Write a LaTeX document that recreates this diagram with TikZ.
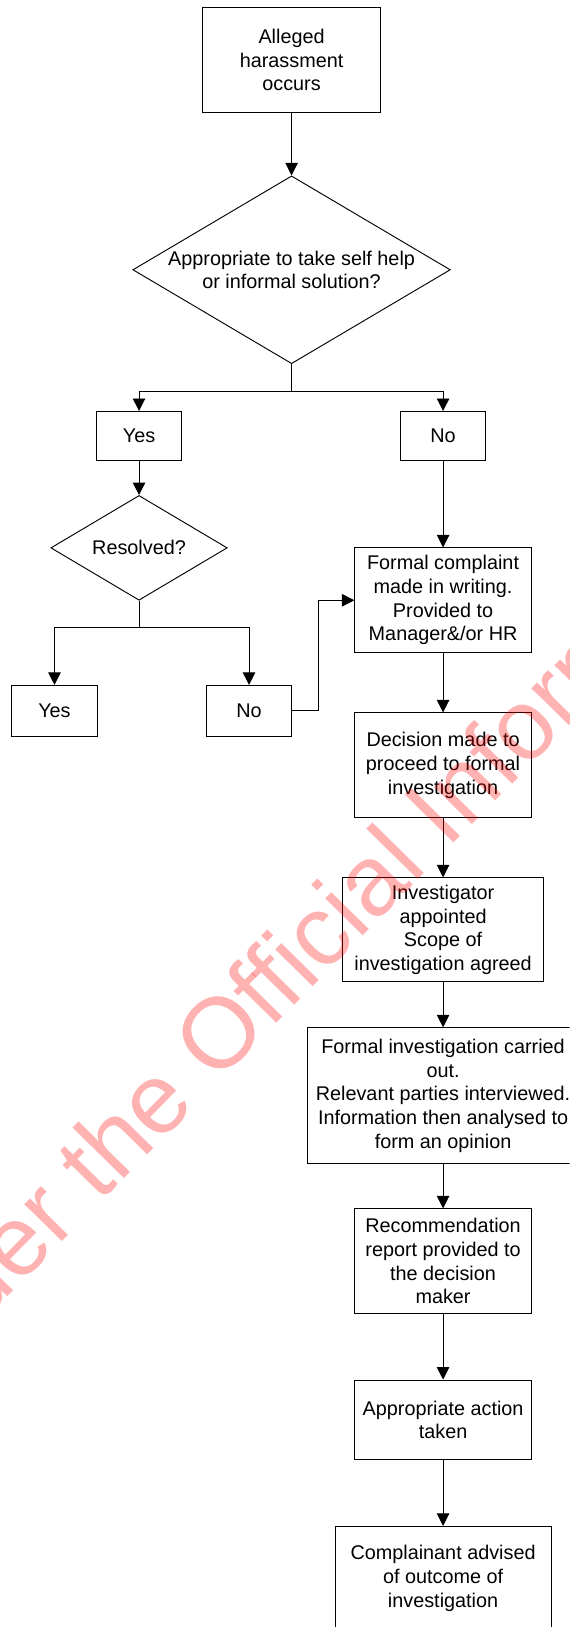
\documentclass[tikz,border=0pt]{standalone}
\usepackage{fontspec}
\setmainfont{Liberation Sans}
\usetikzlibrary{arrows.meta,shapes.geometric}
\begin{document}
\begin{tikzpicture}[x=1pt,y=1pt,
  every node/.style={font=\fontsize{19.1pt}{22.8pt}\selectfont},
  box/.style={draw=black, line width=0.9pt, rectangle, inner sep=0pt, align=center},
  dia/.style={draw=black, line width=0.9pt, diamond, inner sep=0pt},
  lbl/.style={align=center, inner sep=0pt},
  arr/.style={line width=0.9pt, -{Triangle[length=12pt,width=12pt]}},
  ln/.style={line width=0.9pt},
  wm/.style={text=red, text opacity=0.3, inner sep=0pt, rotate=45.5,
    font=\fontsize{96pt}{96pt}\selectfont}]
\useasboundingbox (0,0) rectangle (549,-1568);
\fill[white] (0,0) rectangle (549,-1568);
\clip (0,0) rectangle (549,-1568);

% left/top part
\node[box, minimum width=172pt, minimum height=101pt] (top) at (281,-58) {Alleged\\harassment\\occurs};
\node[dia, minimum width=306pt, minimum height=181pt] (d1) at (281,-260) {};
\node[lbl] (d1t) at (d1.center) {Appropriate to take self help\\or informal solution?};

\node[box, minimum width=82pt, minimum height=47pt] (yes1) at (134,-420) {Yes};
\node[box, minimum width=82pt, minimum height=47pt] (no1) at (427,-420) {No};

\node[dia, minimum width=170pt, minimum height=101pt] (d2) at (134,-528) {};
\node[lbl] (d2t) at (d2.center) {Resolved?};

\node[box, minimum width=82pt, minimum height=49pt] (yes2) at (52.5,-685) {Yes};
\node[box, minimum width=82pt, minimum height=49pt] (no2) at (240,-685) {No};

% right column
\node[box, minimum width=170pt, minimum height=101pt] (formal) at (427,-578.5) {Formal complaint\\made in writing.\\Provided to\\Manager\&/or HR};
\node[box, minimum width=170pt, minimum height=101pt] (decision) at (427,-737.5) {Decision made to\\proceed to formal\\investigation};
\node[box, minimum width=194pt, minimum height=100pt] (invest) at (427,-896) {Investigator\\appointed\\Scope of\\investigation agreed};
\node[box, minimum width=262pt, minimum height=131pt] (forminv) at (427,-1056) {Formal investigation carried\\out.\\Relevant parties interviewed.\\Information then analysed to\\form an opinion};
\node[box, minimum width=170pt, minimum height=101pt] (recom) at (427,-1215.5) {Recommendation\\report provided to\\the decision\\maker};
\node[box, minimum width=170pt, minimum height=77pt] (action) at (427,-1368.5) {Appropriate action\\taken};
\node[box, minimum width=208pt, minimum height=100pt] (compl) at (427,-1521) {Complainant advised\\of outcome of\\investigation};

% connectors
\draw[arr] (top) -- (d1.north);
\draw[ln] (d1.south) -- ++(0,-26) coordinate (j1);
\draw[arr] (j1) -| (yes1.north);
\draw[arr] (j1) -| (no1.north);
\draw[arr] (yes1) -- (d2.north);
\draw[ln] (d2.south) -- ++(0,-26) coordinate (j2);
\draw[arr] (j2) -| (yes2.north);
\draw[arr] (j2) -| (no2.north);
\draw[arr] (no2.east) -- ++(25,0) |- (formal.west);
\draw[arr] (no1) -- (formal);
\draw[arr] (formal) -- (decision);
\draw[arr] (decision) -- (invest);
\draw[arr] (invest) -- (forminv);
\draw[arr] (forminv) -- (recom);
\draw[arr] (recom) -- (action);
\draw[arr] (action) -- (compl);

% watermark
\node[wm] (wmark) at (219,-986) {Released under the Official Information Act};
\end{tikzpicture}
\end{document}
